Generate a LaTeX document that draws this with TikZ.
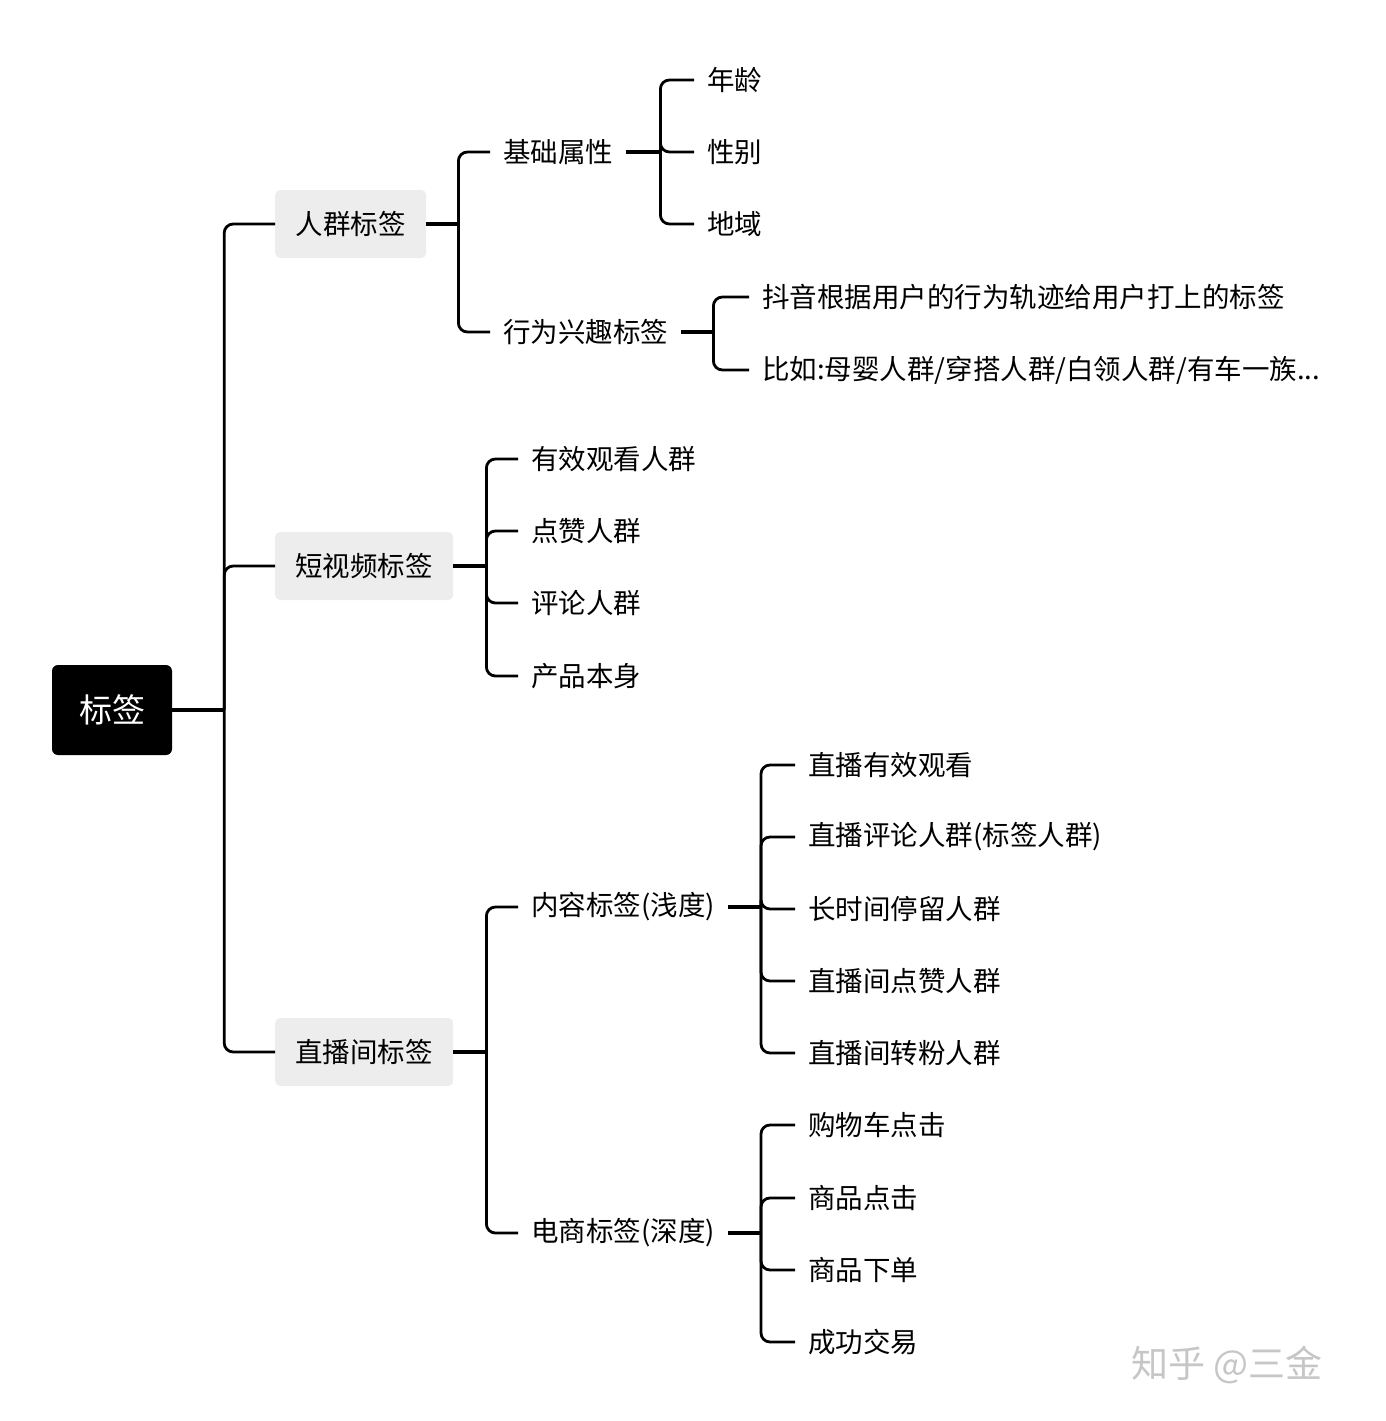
\documentclass[tikz,border=0pt]{standalone}
\usepackage{fontspec}
\setmainfont{Noto Sans CJK SC}
\begin{document}
\begin{tikzpicture}[x=1pt,y=-1pt,
  conn/.style={line width=2.8pt,rounded corners=9pt},
  stub/.style={line width=3.4pt},
  box/.style={fill=gray!14,rounded corners=5pt,minimum height=68pt,inner xsep=0pt,font=\fontsize{27.5}{30}\selectfont,anchor=west},
  t/.style={anchor=west,inner xsep=13pt,inner ysep=0pt,font=\fontsize{27.5}{30}\selectfont}]
\useasboundingbox (0,0) rectangle (1386,1421);
\node[fill=black,rounded corners=6pt,minimum width=120pt,minimum height=90pt,text=white,font=\fontsize{33}{36}\selectfont] (root) at (112,710) {标签};
\node[box,minimum width=151pt] (a) at (275,224) {人群标签};
\node[box,minimum width=178pt] (b) at (275,566) {短视频标签};
\node[box,minimum width=178pt] (c) at (275,1052) {直播间标签};
\draw[stub] (root.east) -- ++(52,0) coordinate (jr);
\foreach \n in {a,b,c} \draw[conn] (jr) |- (\n.west);
% a
\node[t] (a1) at (490,152) {基础属性};
\node[t] (a2) at (490,332) {行为兴趣标签};
\draw[stub] (a.east) -- ++(32,0) coordinate (ja);
\foreach \n in {a1,a2} \draw[conn] (ja) |- (\n.west);
\node[t] (a11) at (694,80) {年龄};
\node[t] (a12) at (694,152) {性别};
\node[t] (a13) at (694,224) {地域};
\draw[stub] (a1.east) -- ++(34,0) coordinate (ja1);
\foreach \n in {a11,a12,a13} \draw[conn] (ja1) |- (\n.west);
\node[t] (a21) at (749,297) {抖音根据用户的行为轨迹给用户打上的标签};
\node[t] (a22) at (749,370) {比如:母婴人群/穿搭人群/白领人群/有车一族...};
\draw[stub] (a2.east) -- ++(32,0) coordinate (ja2);
\foreach \n in {a21,a22} \draw[conn] (ja2) |- (\n.west);
% b
\node[t] (b1) at (518,459) {有效观看人群};
\node[t] (b2) at (518,531) {点赞人群};
\node[t] (b3) at (518,603) {评论人群};
\node[t] (b4) at (518,676) {产品本身};
\draw[stub] (b.east) -- ++(33,0) coordinate (jb);
\foreach \n in {b1,b2,b3,b4} \draw[conn] (jb) |- (\n.west);
% c
\node[t] (c1) at (518,907) {内容标签(浅度)};
\node[t] (c2) at (518,1233) {电商标签(深度)};
\draw[stub] (c.east) -- ++(33,0) coordinate (jc);
\foreach \n in {c1,c2} \draw[conn] (jc) |- (\n.west);
\node[t] (c11) at (795,765) {直播有效观看};
\node[t] (c12) at (795,837) {直播评论人群(标签人群)};
\node[t] (c13) at (795,909) {长时间停留人群};
\node[t] (c14) at (795,981) {直播间点赞人群};
\node[t] (c15) at (795,1053) {直播间转粉人群};
\draw[stub] (c1.east) -- ++(33,0) coordinate (jc1);
\foreach \n in {c11,c12,c13,c14,c15} \draw[conn] (jc1) |- (\n.west);
\node[t] (c21) at (795,1125) {购物车点击};
\node[t] (c22) at (795,1198) {商品点击};
\node[t] (c23) at (795,1270) {商品下单};
\node[t] (c24) at (795,1342) {成功交易};
\draw[stub] (c2.east) -- ++(33,0) coordinate (jc2);
\foreach \n in {c21,c22,c23,c24} \draw[conn] (jc2) |- (\n.west);
\node[anchor=west,text=gray!45,font=\fontsize{37}{40}\selectfont] (wm) at (1128,1365) {知乎 @三金};
\end{tikzpicture}
\end{document}
